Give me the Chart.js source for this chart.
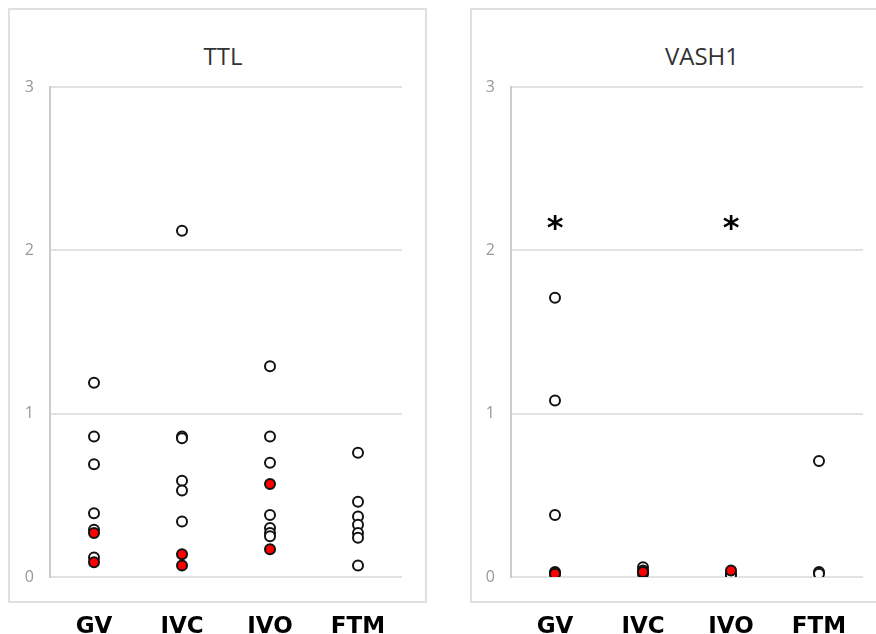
<!DOCTYPE html>
<html>
<head>
<meta charset="utf-8">
<script src="https://cdn.jsdelivr.net/npm/chart.js@4.4.0/dist/chart.umd.min.js"></script>
<style>
html, body { margin:0; padding:0; background:#fff; overflow:hidden; width:876px; height:634px; }
.panel { position:absolute; border:2px solid #e0e0e0; box-sizing:border-box; }
.title { position:absolute; width:200px; text-align:center; font-family:'Open Sans'; font-size:24px; line-height:24px; color:#333; }
canvas { position:absolute; }
</style>
</head>
<body>
<div class="panel" style="left:8px;top:8px;width:419px;height:595px"></div>
<div class="panel" style="left:470px;top:8px;width:430px;height:595px"></div>
<div class="title" style="left:123px;top:44px">TTL</div>
<div class="title" style="left:602px;top:44px">VASH1</div>
<canvas id="ttl" width="430" height="626" style="left:8px;top:8px"></canvas>
<canvas id="vash" width="405" height="626" style="left:471px;top:8px"></canvas>
<script>
// groups on the x axis
var categories = ['GV', 'IVC', 'IVO', 'FTM'];
var yTicks = [0, 1, 2, 3];

// TTL: one list per category, open circles and red circles
var ttlOpen = [
  [1.19, 0.86, 0.69, 0.39, 0.29, 0.12],
  [2.12, 0.86, 0.85, 0.59, 0.53, 0.34],
  [1.29, 0.86, 0.70, 0.38, 0.30, 0.27, 0.25],
  [0.76, 0.46, 0.37, 0.32, 0.27, 0.24, 0.07]
];
var ttlRed = [
  [0.27, 0.09],
  [0.14, 0.07],
  [0.57, 0.17],
  []
];

// VASH1
var vashOpen = [
  [1.71, 1.08, 0.38, 0.03, 0.02],
  [0.06, 0.04, 0.02],
  [0.02, 0.01],
  [0.71, 0.03, 0.02]
];
var vashRed = [
  [0.02],
  [0.03],
  [0.04],
  []
];
var vashStars = ['GV', 'IVO'];
var starLevel = 2.17;

function toPoints(groups) {
  var pts = [];
  groups.forEach(function (vals, i) {
    vals.forEach(function (v) { pts.push({ x: categories[i], y: v }); });
  });
  return pts;
}

// draws the significance asterisks as text on the chart scales
var starPlugin = {
  id: 'stars',
  afterDatasetsDraw: function (chart) {
    var cats = chart.options.plugins.stars.cats || [];
    if (!cats.length) return;
    var ctx = chart.ctx;
    ctx.save();
    ctx.font = 'bold 32px "DejaVu Sans"';
    ctx.fillStyle = '#000';
    ctx.textAlign = 'center';
    ctx.textBaseline = 'alphabetic';
    var m = ctx.measureText('*');
    cats.forEach(function (c) {
      var x = chart.scales.x.getPixelForValue(c);
      var y = chart.scales.y.getPixelForValue(chart.options.plugins.stars.level);
      ctx.fillText('*', x, y + (m.actualBoundingBoxAscent - m.actualBoundingBoxDescent) / 2);
    });
    ctx.restore();
  }
};

function makePanel(id, openVals, redVals, stars, axisW, padRight) {
  var ctx = document.getElementById(id).getContext('2d');
  return new Chart(ctx, {
    type: 'scatter',
    data: {
      datasets: [{
        data: toPoints(redVals),
        order: 0,
        pointRadius: 5,
        pointBorderWidth: 2,
        pointBackgroundColor: '#ff0000',
        pointBorderColor: '#111'
      }, {
        data: toPoints(openVals),
        order: 1,
        pointRadius: 5,
        pointBorderWidth: 2,
        pointBackgroundColor: '#fff',
        pointBorderColor: '#111'
      }]
    },
    options: {
      responsive: false,
      animation: false,
      layout: { padding: { left: 0, top: 79, right: padRight, bottom: 0 } },
      plugins: {
        legend: { display: false },
        tooltip: { enabled: false },
        stars: { cats: stars, level: starLevel }
      },
      scales: {
        x: {
          type: 'category',
          labels: categories,
          offset: true,
          grid: { display: false, drawTicks: false },
          border: { display: false },
          ticks: {
            color: '#000',
            padding: 36,
            font: { family: 'DejaVu Sans', size: 23, weight: 'bold' }
          },
          afterFit: function (s) { s.height = 57; s.paddingLeft = 0; s.paddingRight = 0; }
        },
        y: {
          min: 0,
          max: 3,
          afterBuildTicks: function (s) { s.ticks = yTicks.map(function (v) { return { value: v }; }); },
          ticks: {
            color: '#999',
            padding: 16,
            font: { family: 'Open Sans', size: 16 }
          },
          grid: { color: '#e2e2e2', lineWidth: 2, drawTicks: false },
          border: { color: '#cccccc', width: 2 },
          afterFit: function (s) { s.width = axisW; }
        }
      }
    },
    plugins: [starPlugin]
  });
}

makePanel('ttl', ttlOpen, ttlRed, [], 42, 36);
makePanel('vash', vashOpen, vashRed, vashStars, 40, 13);
</script>
</body>
</html>
